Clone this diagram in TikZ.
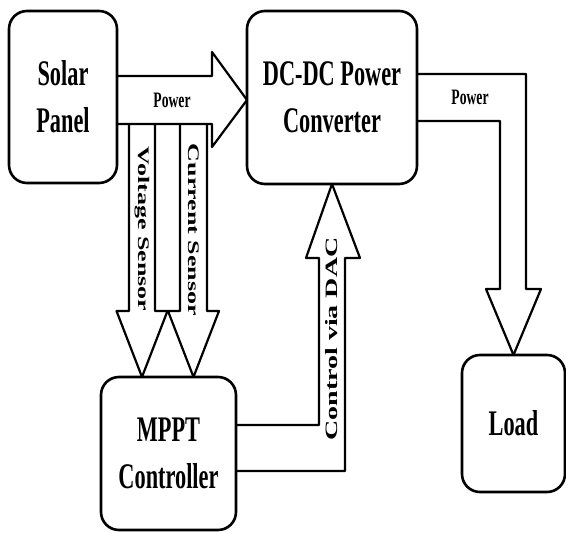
\documentclass[tikz,border=0pt]{standalone}
\usepackage{fontspec}
\usepackage{graphicx}
\newfontfamily\narrowfont[FakeStretch=0.62]{Liberation Serif}
\newfontfamily\plainfont{Liberation Serif}
\usetikzlibrary{calc}

\begin{document}
\begin{tikzpicture}[
    x=1pt, y=-1pt,
    block/.style={rectangle, draw, line width=2.6pt, rounded corners=18pt, outer sep=0pt, align=center, font=\narrowfont\bfseries\fontsize{36}{47}\selectfont},
    bigarrow/.style={draw, line width=2.2pt, line join=round},
    lbl/.style={inner sep=0pt, font=\narrowfont\bfseries\fontsize{22}{26}\selectfont},
    sidelbl/.style={inner sep=0pt, font=\plainfont\bfseries\fontsize{26}{30}\selectfont},
    ctrllbl/.style={inner sep=0pt, font=\plainfont\bfseries\fontsize{28}{32}\selectfont}
]
    \useasboundingbox (0,0) rectangle (566,533);

    \node[block, minimum width=108pt, minimum height=172pt] (solar) at (63,97) {Solar\\Panel};
    \node[block, minimum width=170pt, minimum height=173pt] (dcdc) at (332,97.5) {DC-DC Power\\Converter};
    \node[block, minimum width=135pt, minimum height=153pt] (mppt) at (168.5,453.5) {MPPT\\Controller};
    \node[block, minimum width=103pt, minimum height=137pt] (load) at (513.5,423.5) {Load};

    % power from the panel
    \draw[bigarrow] (solar.east |- 0,76) -- (212,76) -- (212,52) -- (dcdc.west |- 0,100) -- (212,147) -- (212,124) -- (solar.east |- 0,124);
    \node[lbl] (pin) at (172,100) {Power};

    % sensor arrows
    \draw[bigarrow] (129,124) -- (129,311) -- (116.5,311) -- (mppt.north -| 142,0) -- (167.5,311) -- (155,311) -- (155,124);
    \draw[bigarrow] (180,124) -- (180,311) -- (168,311) -- (mppt.north -| 193.5,0) -- (219,311) -- (207,311) -- (207,124);
    \node[sidelbl, rotate=-90] (vsense) at (142,229) {\scalebox{1}[0.62]{Voltage Sensor}};
    \node[sidelbl, rotate=-90] (csense) at (193.5,230) {\scalebox{1}[0.62]{Current Sensor}};

    % control back to the converter
    \draw[bigarrow] (mppt.east |- 0,425) -- (319,425) -- (319,258) -- (306,258) -- (dcdc.south) -- (360,258) -- (345,258) -- (345,471) -- (mppt.east |- 0,471);
    \node[ctrllbl, rotate=90] (ctrl) at (332,339) {\scalebox{1}[0.62]{Control via DAC}};

    % power to the load
    \draw[bigarrow] (dcdc.east |- 0,74) -- (526,74) -- (526,289) -- (541,289) -- (load.north) -- (486,289) -- (500,289) -- (500,121) -- (dcdc.east |- 0,121);
    \node[lbl] (pout) at (470,97) {Power};
\end{tikzpicture}
\end{document}
